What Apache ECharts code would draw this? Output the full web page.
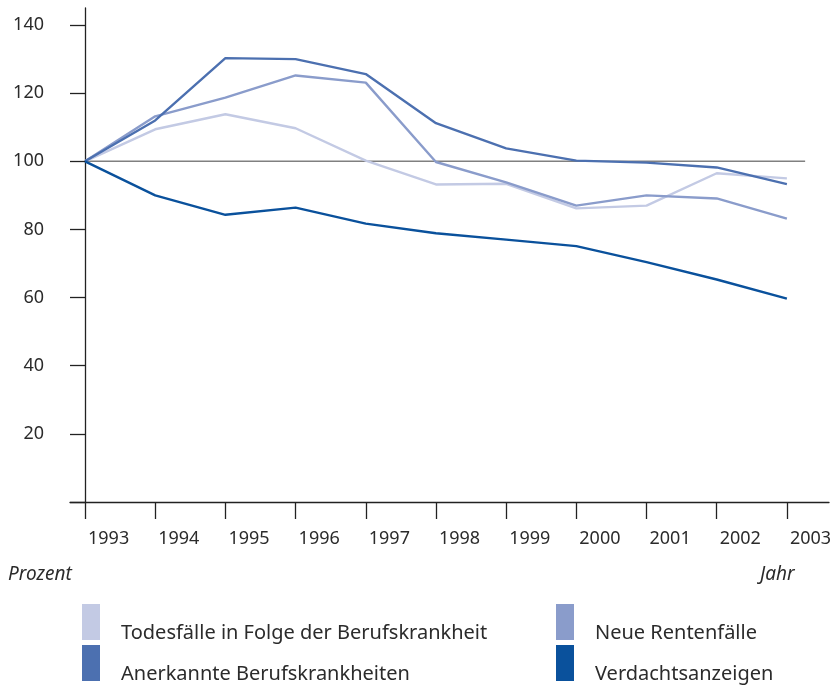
<!DOCTYPE html>
<html>
<head>
<meta charset="utf-8">
<script src="https://cdn.jsdelivr.net/npm/echarts@6/dist/echarts.min.js"></script>
<style>
  html, body { margin: 0; padding: 0; background: #fff; }
  #main { width: 839px; height: 686px; }
</style>
</head>
<body>
<div id="main"></div>
<script>
    // Jahre (x) und Indexwerte (1993 = 100)
    var years = [1993, 1994, 1995, 1996, 1997, 1998, 1999, 2000, 2001, 2002, 2003];
    var todesfaelle = [100, 109.4, 113.8, 109.7, 100.2, 93.2, 93.4, 86.2, 87, 96.5, 95];
    var neueRenten = [100, 113.2, 118.7, 125.2, 123.1, 99.8, 93.8, 87, 90, 89.1, 83.2];
    var anerkannte = [100, 112, 130.3, 130, 125.6, 111.2, 103.8, 100.2, 99.6, 98.2, 93.3];
    var verdacht = [100, 90, 84.3, 86.4, 81.7, 78.9, 77, 75.1, 70.4, 65.3, 59.7];
    var yTicks = [0, 20, 40, 60, 80, 100, 120, 140];
    var refX = [1993, 2003.26];
    var refY = [100, 100];

    var names = ['Todesfälle in Folge der Berufskrankheit', 'Neue Rentenfälle',
        'Anerkannte Berufskrankheiten', 'Verdachtsanzeigen'];
    var colors = ['#c3cae4', '#8a9ccb', '#4c70b0', '#0a519c'];
    var values = [todesfaelle, neueRenten, anerkannte, verdacht];

    function pairs(xs, ys) {
        return xs.map(function (x, i) { return [x, ys[i]]; });
    }

    var font = 'Noto Sans';
    var series = [{
        name: 'ref',
        type: 'line',
        data: pairs(refX, refY),
        symbol: 'none',
        silent: true,
        z: 1,
        lineStyle: { color: '#808080', width: 1.5 }
    }];
    values.forEach(function (v, i) {
        series.push({
            name: names[i],
            type: 'line',
            data: pairs(years, v),
            symbol: 'none',
            z: 2 + i,
            itemStyle: { color: colors[i] },
            lineStyle: { color: colors[i], width: 2.4 }
        });
    });

    // eine Legende pro Eintrag (2 x 2 Raster), Text sitzt unten neben dem Farbfeld
    var legendPos = [[82, 600], [556, 600], [82, 641], [556, 641]];
    var legends = names.map(function (n, i) {
        return {
            left: legendPos[i][0],
            top: legendPos[i][1],
            data: [n],
            icon: 'rect',
            itemWidth: 18,
            itemHeight: 36,
            selectedMode: false,
            padding: 0,
            formatter: function (name) { return '\n' + name; },
            textStyle: { fontFamily: font, fontSize: 20, lineHeight: 22, color: '#2b2b2b', padding: [0, 0, 0, 16] }
        };
    });

    var chart = echarts.init(document.getElementById('main'));
    chart.setOption({
        animation: false,
        grid: { left: 70, right: 10, top: 8, bottom: 184 },
        xAxis: {
            type: 'value',
            min: 1992.786,
            max: 2003.6,
            splitLine: { show: false },
            axisLine: { show: true, lineStyle: { color: '#222', width: 1.3 } },
            axisTick: { show: true, length: 17, customValues: years, lineStyle: { color: '#222', width: 1.3 } },
            axisLabel: {
                customValues: years,
                formatter: function (v) { return String(v); },
                align: 'left',
                verticalAlign: 'top',
                margin: 28,
                padding: [0, 0, 0, 3],
                fontFamily: font,
                fontSize: 18,
                color: '#2b2b2b'
            }
        },
        yAxis: {
            type: 'value',
            min: 0,
            max: 145,
            offset: -15,
            splitLine: { show: false },
            axisLine: { show: true, lineStyle: { color: '#222', width: 1.3 } },
            axisTick: { show: true, length: 15, customValues: yTicks, lineStyle: { color: '#222', width: 1.3 } },
            axisLabel: {
                customValues: yTicks.slice(1),
                margin: 41,
                padding: [0, 0, 11, 0],
                fontFamily: font,
                fontSize: 18,
                color: '#2b2b2b'
            }
        },
        legend: legends,
        graphic: [
            { type: 'text', left: 8, top: 565, style: { text: 'Prozent', font: 'italic 19px "Noto Sans"', fill: '#2b2b2b' } },
            { type: 'text', left: 760, top: 565, style: { text: 'Jahr', font: 'italic 19px "Noto Sans"', fill: '#2b2b2b' } }
        ],
        series: series
    });
</script>
</body>
</html>
